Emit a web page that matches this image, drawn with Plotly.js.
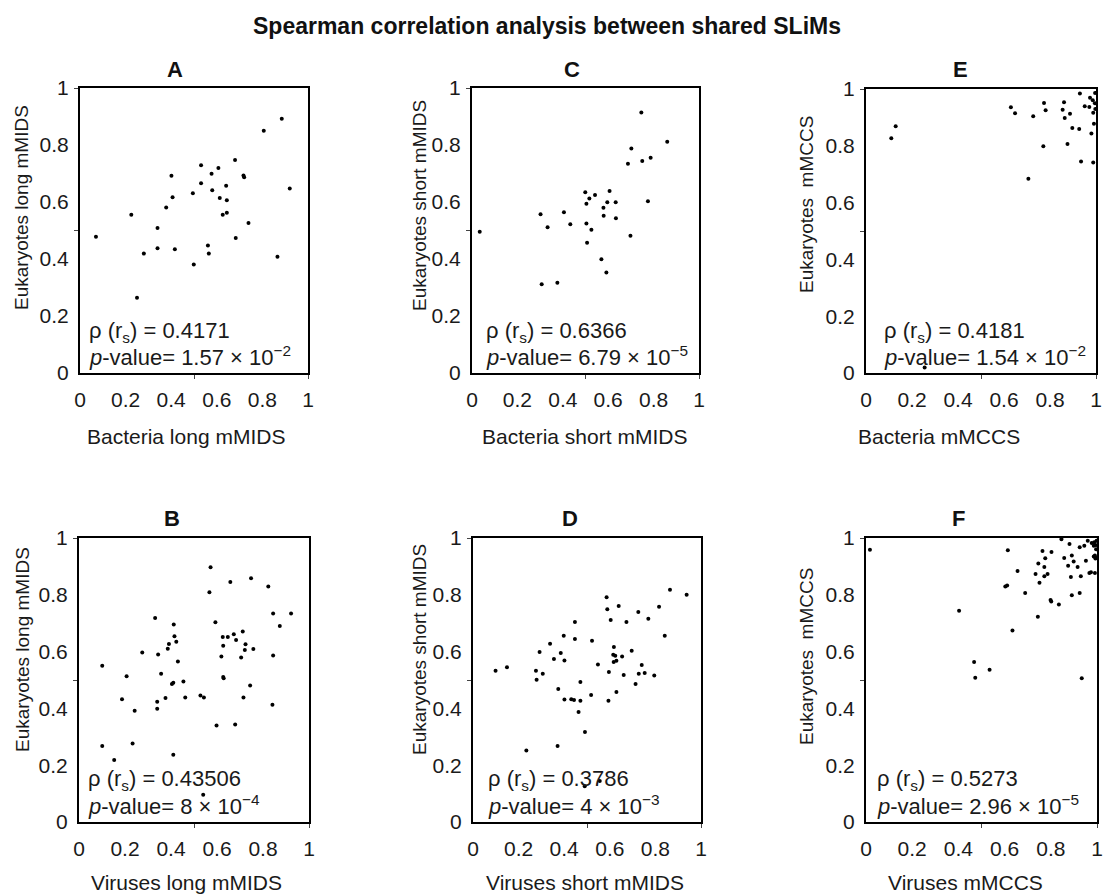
<!DOCTYPE html>
<html>
<head>
<meta charset="utf-8">
<script src="https://cdn.plot.ly/plotly-3.0.1.min.js"></script>
<style>html,body{margin:0;padding:0;background:#fff;}#chart{width:1104px;height:894px;}</style>
</head>
<body>
<div id="chart"></div>
<script>
// ---- data ----
const aX = [0.07,0.225,0.25,0.28,0.34,0.34,0.378,0.401,0.406,0.416,0.495,0.499,0.531,0.531,0.561,0.565,0.577,0.58,0.607,0.613,0.626,0.641,0.644,0.644,0.68,0.683,0.717,0.72,0.739,0.806,0.866,0.885,0.92];
const aY = [0.478,0.555,0.264,0.419,0.509,0.438,0.581,0.692,0.617,0.434,0.631,0.381,0.729,0.666,0.447,0.419,0.699,0.641,0.719,0.614,0.555,0.657,0.606,0.562,0.747,0.474,0.693,0.687,0.526,0.85,0.408,0.892,0.647];

const bX = [0.572,0.567,0.658,0.748,0.823,0.844,0.922,0.873,0.331,0.593,0.412,0.415,0.423,0.391,0.386,0.275,0.344,0.101,0.43,0.357,0.207,0.404,0.454,0.187,0.242,0.34,0.34,0.376,0.462,0.528,0.543,0.625,0.647,0.673,0.683,0.712,0.724,0.721,0.758,0.627,0.619,0.705,0.844,0.627,0.744,0.715,0.841,0.598,0.679,0.101,0.233,0.153,0.41,0.54,0.41,0.629];
const bY = [0.897,0.809,0.845,0.858,0.829,0.734,0.734,0.69,0.718,0.703,0.695,0.654,0.635,0.627,0.61,0.597,0.59,0.55,0.565,0.522,0.513,0.486,0.495,0.432,0.392,0.423,0.399,0.437,0.438,0.445,0.438,0.651,0.651,0.661,0.641,0.671,0.626,0.606,0.609,0.621,0.583,0.579,0.586,0.511,0.481,0.438,0.413,0.34,0.343,0.268,0.276,0.218,0.237,0.096,0.49,0.506];

const cX = [0.034,0.302,0.307,0.333,0.376,0.405,0.433,0.499,0.504,0.504,0.507,0.517,0.526,0.542,0.57,0.579,0.58,0.592,0.596,0.606,0.633,0.634,0.687,0.698,0.702,0.746,0.75,0.775,0.787,0.86];
const cY = [0.496,0.557,0.311,0.511,0.317,0.564,0.522,0.634,0.594,0.525,0.457,0.612,0.503,0.625,0.399,0.58,0.552,0.353,0.599,0.639,0.599,0.543,0.734,0.482,0.788,0.914,0.744,0.603,0.755,0.811];

const dX = [0.864,0.937,0.586,0.589,0.639,0.816,0.725,0.604,0.673,0.769,0.447,0.398,0.447,0.522,0.338,0.841,0.292,0.385,0.355,0.401,0.618,0.615,0.624,0.654,0.696,0.617,0.629,0.548,0.099,0.149,0.276,0.306,0.279,0.596,0.661,0.74,0.727,0.753,0.795,0.713,0.471,0.374,0.629,0.518,0.401,0.431,0.443,0.471,0.594,0.463,0.491,0.234,0.371,0.49,0.556];
const dY = [0.818,0.8,0.791,0.749,0.761,0.758,0.739,0.711,0.704,0.716,0.704,0.656,0.644,0.638,0.628,0.656,0.599,0.595,0.574,0.569,0.616,0.589,0.585,0.583,0.603,0.563,0.568,0.555,0.533,0.545,0.533,0.522,0.501,0.528,0.518,0.553,0.522,0.525,0.516,0.486,0.493,0.468,0.458,0.447,0.431,0.432,0.43,0.427,0.427,0.387,0.317,0.252,0.268,0.126,0.144];

const eX = [0.11,0.129,0.255,0.63,0.648,0.706,0.727,0.771,0.774,0.781,0.855,0.861,0.864,0.876,0.887,0.897,0.927,0.93,0.935,0.951,0.971,0.974,0.98,0.986,0.988,0.988,0.991,0.996,0.995,0.997];
const eY = [0.827,0.869,0.019,0.936,0.915,0.684,0.904,0.798,0.951,0.925,0.927,0.953,0.898,0.806,0.913,0.863,0.859,0.984,0.745,0.939,0.937,0.969,0.843,0.96,0.916,0.741,0.878,0.986,0.95,0.93];

const fX = [0.017,0.403,0.468,0.473,0.535,0.603,0.611,0.614,0.634,0.656,0.689,0.734,0.744,0.746,0.751,0.764,0.772,0.772,0.776,0.786,0.799,0.802,0.803,0.835,0.846,0.858,0.875,0.881,0.887,0.891,0.891,0.899,0.916,0.925,0.925,0.930,0.934,0.945,0.952,0.960,0.967,0.974,0.977,0.986,0.986,0.988,0.991,0.991,0.994,0.996,0.993,0.998,0.998];
const fY = [0.959,0.744,0.563,0.508,0.536,0.829,0.833,0.957,0.674,0.884,0.806,0.873,0.723,0.910,0.842,0.954,0.898,0.865,0.929,0.873,0.782,0.776,0.951,0.766,0.996,0.930,0.902,0.979,0.863,0.938,0.798,0.917,0.898,0.967,0.806,0.865,0.506,0.973,0.920,0.990,0.877,0.879,0.982,0.973,0.935,0.985,0.938,0.877,0.975,0.960,0.928,0.99,0.93];

const tickVals = [0,0.2,0.4,0.6,0.8,1];
const tickText = ['0','0.2','0.4','0.6','0.8','1'];

const panelLetters = ['A','B','C','D','E','F'];
const xTitles = ['Bacteria long mMIDS','Viruses long mMIDS','Bacteria short mMIDS','Viruses short mMIDS','Bacteria mMCCS','Viruses mMCCS'];
const yTitles = ['Eukaryotes long mMIDS','Eukaryotes long mMIDS','Eukaryotes short mMIDS','Eukaryotes short mMIDS','Eukaryotes\u00a0 mMCCS','Eukaryotes\u00a0 mMCCS'];
const rhoText = ['0.4171','0.43506','0.6366','0.3786','0.4181','0.5273'];
const pText = ['1.57 × 10<sup>−2</sup>','8 × 10<sup>−4</sup>','6.79 × 10<sup>−5</sup>','4 × 10<sup>−3</sup>','1.54 × 10<sup>−2</sup>','2.96 × 10<sup>−5</sup>'];

// ---- layout geometry (pixels) ----
const W = 1104, H = 894;
const px = v => v / W;
const py = v => 1 - v / H;
// [left, right, top, bottom] boxes for A..F
const boxes = [
  [80, 308, 88, 373],
  [79, 309, 538, 822],
  [472, 699, 88, 373],
  [473, 701, 538, 822],
  [866, 1096, 89, 373],
  [866, 1097, 538, 822]
];
const letterPos = [[175,69],[172,518],[572,69],[570,518],[960,69],[958,518]];
const xTitlePos = [[186,436],[186,882],[584,436],[585,882],[939,436],[965,882]];
const yTitlePos = [[22,208],[22,650],[419,206],[419,650],[806,205],[806,657]];
const statsLeft = [87,86,484,486,882,875];

const FONT = 'Liberation Sans, Arial, Helvetica, sans-serif';
const TXT = '#1a1a1a';
const series = [[aX,aY],[bX,bY],[cX,cY],[dX,dY],[eX,eY],[fX,fY]];

const data = [];
const layout = {
  width: W, height: H,
  margin: {l:0, r:0, t:0, b:0},
  paper_bgcolor: '#fff', plot_bgcolor: '#fff',
  showlegend: false,
  font: {family: FONT, color: TXT},
  title: {text: '<b>Spearman correlation analysis between shared SLiMs</b>', x: px(547), xanchor: 'center', y: py(26), yanchor: 'middle', yref: 'paper', font: {family: FONT, size: 23, color: '#111'}},
  annotations: []
};

series.forEach((s, i) => {
  const n = i === 0 ? '' : String(i + 1);
  data.push({
    type: 'scatter', mode: 'markers', x: s[0], y: s[1],
    xaxis: 'x' + n, yaxis: 'y' + n,
    marker: {size: 4, color: '#000'},
    hoverinfo: 'x+y'
  });
  const b = boxes[i];
  const common = {
    range: [0, 1], showgrid: false, zeroline: false,
    showline: true, mirror: true, linecolor: '#000', linewidth: 2,
    tickmode: 'array', tickvals: tickVals, ticktext: tickText, ticks: '',
    minor: {tickmode: 'array', tickvals: [0.5, 1], ticks: 'outside', ticklen: 4, tickcolor: '#444', tickwidth: 1},
    tickfont: {family: FONT, size: 21, color: TXT},
    fixedrange: true
  };
  layout['xaxis' + n] = Object.assign({}, common, {
    domain: [px(b[0]), px(b[1])], anchor: 'y' + n, ticklabelstandoff: 7
  });
  layout['yaxis' + n] = Object.assign({}, common, {
    domain: [py(b[3]), py(b[2])], anchor: 'x' + n, ticklabelstandoff: 5
  });

  const top = b[2] < 300;
  layout.annotations.push(
    {text: '<b>' + panelLetters[i] + '</b>', xref: 'paper', yref: 'paper', x: px(letterPos[i][0]), y: py(letterPos[i][1]), xanchor: 'center', yanchor: 'middle', showarrow: false, font: {family: FONT, size: 22, color: '#111'}},
    {text: xTitles[i], xref: 'paper', yref: 'paper', x: px(xTitlePos[i][0]), y: py(xTitlePos[i][1]), xanchor: 'center', yanchor: 'middle', showarrow: false, font: {family: FONT, size: 21, color: TXT}},
    {text: yTitles[i], xref: 'paper', yref: 'paper', x: px(yTitlePos[i][0]), y: py(yTitlePos[i][1]), xanchor: 'center', yanchor: 'middle', textangle: -90, showarrow: false, font: {family: FONT, size: 19, color: TXT}},
    {text: 'ρ (r<sub>s</sub>) = ' + rhoText[i], xref: 'paper', yref: 'paper', x: px(statsLeft[i]), y: py(top ? 332 : 780), xanchor: 'left', yanchor: 'middle', showarrow: false, font: {family: FONT, size: 22, color: TXT}},
    {text: '<i>p</i>-value= ' + pText[i], xref: 'paper', yref: 'paper', x: px(statsLeft[i]), y: py(top ? 356 : 805), xanchor: 'left', yanchor: 'middle', showarrow: false, font: {family: FONT, size: 22, color: TXT}}
  );
});

Plotly.newPlot('chart', data, layout, {displayModeBar: false, staticPlot: true});
</script>
</body>
</html>
